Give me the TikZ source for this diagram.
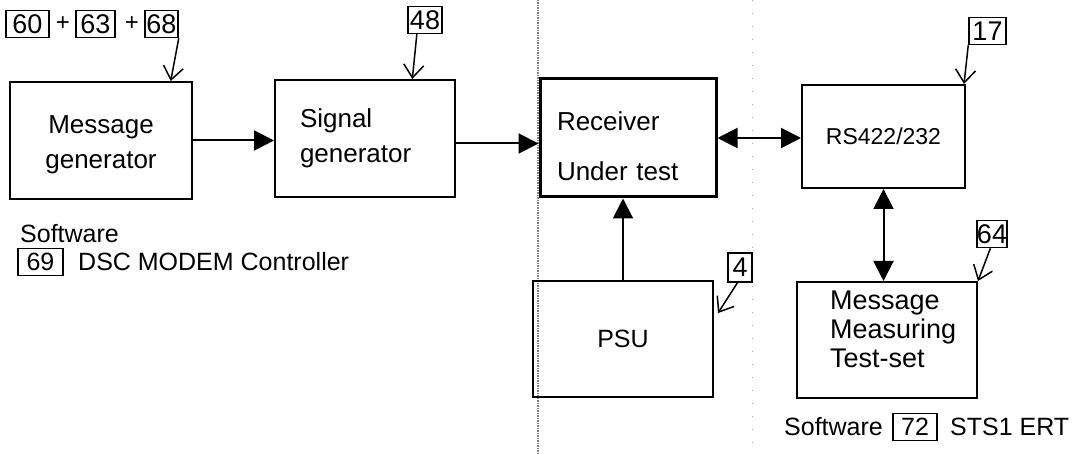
\documentclass[tikz,border=0pt]{standalone}
\usepackage{fontspec}
\setmainfont{Liberation Sans}
\usetikzlibrary{arrows.meta,calc}
\begin{document}
\begin{tikzpicture}[x=1pt,y=-1pt,
  box/.style={draw, line width=2pt, inner sep=0pt},
  boxtext/.style={font=\fontsize{26}{35}\selectfont},
  lbl/.style={font=\fontsize{25}{29}\selectfont, inner sep=0pt},
  tag/.style={draw, line width=1.5pt, inner sep=0pt, minimum height=27pt, font=\fontsize{27}{27}\selectfont},
  flow/.style={line width=2pt, -{Triangle[length=20pt,width=20pt]}},
  both/.style={line width=2pt, {Triangle[length=20pt,width=20pt]}-{Triangle[length=20pt,width=20pt]}},
  ref/.style={line width=1.5pt, -{Straight Barb[length=13pt,width=20pt,line width=1.5pt]}},
]
\useasboundingbox (0,0) rectangle (1089,454);
% dotted separators
\draw[gray, line width=1.5pt, densely dotted] (538,0) -- (538,454);
\draw[gray!70, line width=1pt, dash pattern=on 1pt off 12pt] (752,0) -- (752,454);

% main boxes
\node[box, boxtext, minimum width=182pt, minimum height=117pt, align=center] (msg) at (101,140.5) {\mbox{}\\[-8pt]Message\\generator};
\node[box, boxtext, minimum width=180pt, minimum height=117pt, align=left, text width=130pt] (sig) at (365,138.5) {Signal\\generator};
\node[box, boxtext, line width=3pt, minimum width=176pt, minimum height=118pt, align=left, text width=142pt] (rx) at (628,138) {\mbox{}\\[0pt]Receiver\\[15pt]Under test};
\node[box, font=\fontsize{23}{27}\selectfont, minimum width=163pt, minimum height=103pt] (rs) at (883.5,136.5) {RS422/232};
\node[box, font=\fontsize{25}{30}\selectfont, minimum width=180pt, minimum height=116pt] (psu) at (623,339) {PSU};
\node[box, font=\fontsize{27}{29}\selectfont, minimum width=180pt, minimum height=116pt, align=left, text width=114pt] (mmt) at (887,340) {Message\\Measuring\\Test-set\\[-7pt]\mbox{}};

% reference tags
\node[tag, minimum width=43pt] (t60) at (27.5,24) {60};
\node[font=\fontsize{24}{24}\selectfont, inner sep=0pt] (p1) at (63,24) {+};
\node[tag, minimum width=39pt] (t63) at (95.5,24) {63};
\node[font=\fontsize{24}{24}\selectfont, inner sep=0pt] (p2) at (132,24) {+};
\node[tag, minimum width=33pt] (t68) at (161.5,24) {68};
\node[tag, minimum width=34pt] (t48) at (425,20) {48};
\node[tag, minimum width=37pt] (t17) at (987.5,31) {17};
\node[tag, minimum width=30pt] (t64) at (992,234) {64};
\node[tag, minimum width=24pt, minimum height=29pt] (t4) at (740,267.5) {4};

% connectors
\draw[flow] (msg.east) -- (sig.west |- msg.east);
\draw[flow] ($(sig.east)+(0,5)$) -- ($(rx.west |- sig.east)+(0,5)$);
\draw[both] (rx.east) -- (rx.east -| rs.west);
\draw[both] (rs.south) -- (rs.south |- mmt.north);
\draw[flow] (psu.north) -- (psu.north |- rx.south);

\draw[ref] (t68.south east) -- ($(msg.north west)!0.879!(msg.north east)$);
\draw[ref] ($(t48.south west)!0.27!(t48.south east)$) -- ($(sig.north west)!0.76!(sig.north east)$);
\draw[ref] (t17.south west) -- ($(rs.north east)+(-2,0)$);
\draw[ref] ($(t64.south west)!0.45!(t64.south east)$) -- (mmt.north east);
\draw[ref] ($(t4.south west)!0.4!(t4.south east)$) -- ($(psu.north east)!0.28!(psu.south east)+(4,0)$);

% software labels
\node[lbl, anchor=west] (sw1) at (20,234) {Software};
\node[tag, minimum width=45pt, font=\fontsize{25}{25}\selectfont] (t69) at (40.5,262) {69};
\node[lbl, anchor=west] (dsc) at (78,262) {DSC MODEM Controller};
\node[lbl, anchor=west] (sw2) at (784,427) {Software};
\node[tag, minimum width=44pt, font=\fontsize{25}{25}\selectfont] (t72) at (915,427) {72};
\node[lbl, anchor=west] (sts) at (950,427) {STS1 ERT};
\end{tikzpicture}
\end{document}
